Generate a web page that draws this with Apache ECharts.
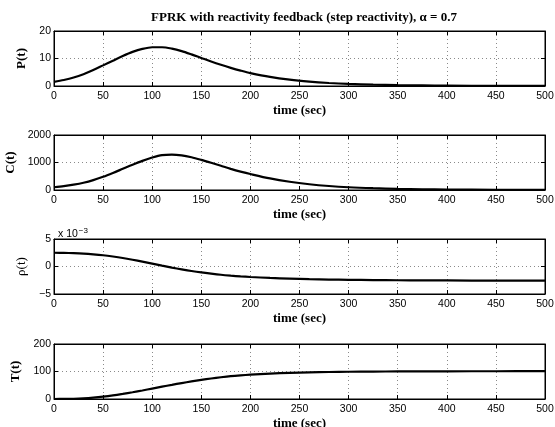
<!DOCTYPE html>
<html>
<head>
<meta charset="utf-8">
<script src="https://cdn.jsdelivr.net/npm/echarts@6/dist/echarts.min.js"></script>
<style>
  html, body { margin: 0; padding: 0; background: #fff; }
  #chart { width: 555px; height: 427px; }
</style>
</head>
<body>
<div id="chart"></div>
<script>
// time samples (sec)
var times = [0, 10, 20, 30, 40, 50, 60, 70, 80, 90, 100, 110, 120, 130, 140, 150, 160, 170, 180, 190, 200,
             220, 240, 260, 280, 300, 325, 350, 375, 400, 450, 500];
// power P(t)
var power = [1.5, 2.2, 3.1, 4.3, 5.8, 7.5, 9.2, 10.9, 12.4, 13.5, 14.1, 14.1, 13.6, 12.7, 11.5, 10.2, 8.9, 7.7, 6.6, 5.6, 4.7,
             3.3, 2.3, 1.6, 1.1, 0.75, 0.48, 0.3, 0.2, 0.13, 0.06, 0.03];
// precursor C(t)
var precursor = [100, 140, 195, 265, 360, 480, 620, 770, 920, 1060, 1180, 1270, 1290, 1260, 1190, 1095, 990, 880, 770, 670, 580,
                 420, 300, 210, 145, 100, 65, 42, 27, 18, 8, 4];
// reactivity rho(t)
var reactivity = [0.0025, 0.00248, 0.00243, 0.00235, 0.00222, 0.00205, 0.00182, 0.00155, 0.00123, 0.00088, 0.00052, 0.00015,
                  -0.0002, -0.00052, -0.00082, -0.00108, -0.0013, -0.0015, -0.00166, -0.0018, -0.00191,
                  -0.00208, -0.0022, -0.0023, -0.00237, -0.00242, -0.00247, -0.0025, -0.00252, -0.00254, -0.00256, -0.00257];
// temperature T(t)
var temperature = [0, 0.3, 1, 2.5, 5, 8.5, 13, 18.5, 24.5, 31, 38, 45, 51.5, 58, 64, 69.5, 74.5, 79, 83, 86, 88.5,
                   92.5, 95, 97, 98.2, 99, 99.7, 100.2, 100.5, 100.7, 101, 101.2];

var yNames = ['P(t)', 'C(t)', 'ρ(t)', 'T(t)'];
var yMin = [0, 0, -0.005, 0];
var yMax = [20, 2000, 0.005, 200];
var yStep = [10, 1000, 0.005, 100];
var tops = [31, 135, 239, 344];
var nameGaps = [21, 31, 21, 25];

var chart = echarts.init(document.getElementById('chart'));

var grids = [], xAxes = [], yAxes = [], series = [];
var allData = [power, precursor, reactivity, temperature];

function plainLabel(v) {
    return '' + v;
}
function milliLabel(v) {
    var s = Math.round(v * 1000);
    return s < 0 ? '\u2212' + (-s) : '' + s;
}

for (var k = 0; k < 4; k++) {
    grids.push({
        left: 54, right: 10, top: tops[k], height: 55, containLabel: false, outerBoundsMode: 'none',
        show: true, borderColor: '#000', borderWidth: 1
    });
    // bottom axis with labels
    xAxes.push({
        type: 'value', gridIndex: k, min: 0, max: 500, interval: 50, position: 'bottom',
        name: 'time (sec)', nameLocation: 'middle', nameGap: 18,
        nameTextStyle: {fontFamily: 'Liberation Serif', fontWeight: 'bold', fontSize: 13, color: '#000'},
        axisLine: {show: true, onZero: false, lineStyle: {color: '#000', width: 1}},
        axisTick: {show: true, inside: true, length: 4, lineStyle: {color: '#000'}},
        axisLabel: {color: '#000', fontFamily: 'Liberation Sans', fontSize: 10.5, margin: 5, formatter: plainLabel},
        splitLine: {show: true, lineStyle: {color: '#8a8a8a', width: 1, type: [1, 3]}}
    });
    // top axis, ticks only
    xAxes.push({
        type: 'value', gridIndex: k, min: 0, max: 500, interval: 50, position: 'top',
        axisLine: {show: true, onZero: false, lineStyle: {color: '#000', width: 1}},
        axisTick: {show: true, inside: true, length: 4, lineStyle: {color: '#000'}},
        axisLabel: {show: false}, splitLine: {show: false}
    });
    yAxes.push({
        type: 'value', gridIndex: k, min: yMin[k], max: yMax[k], interval: yStep[k], position: 'left',
        name: yNames[k], nameLocation: 'middle', nameGap: nameGaps[k], nameRotate: 90,
        nameTextStyle: {fontFamily: 'Liberation Serif', fontWeight: k === 2 ? 'normal' : 'bold', fontSize: 13, color: '#000'},
        axisLine: {show: true, onZero: false, lineStyle: {color: '#000', width: 1}},
        axisTick: {show: true, inside: true, length: 4, lineStyle: {color: '#000'}},
        axisLabel: {
            color: '#000', fontFamily: 'Liberation Sans', fontSize: 10.5, margin: 3,
            formatter: k === 2 ? milliLabel : plainLabel
        },
        splitLine: {show: true, lineStyle: {color: '#8a8a8a', width: 1, type: [1, 3]}}
    });
    yAxes.push({
        type: 'value', gridIndex: k, min: yMin[k], max: yMax[k], interval: yStep[k], position: 'right',
        axisLine: {show: true, onZero: false, lineStyle: {color: '#000', width: 1}},
        axisTick: {show: true, inside: true, length: 4, lineStyle: {color: '#000'}},
        axisLabel: {show: false}, splitLine: {show: false}
    });
    var pts = [];
    for (var i = 0; i < times.length; i++) {
        pts.push([times[i], allData[k][i]]);
    }
    series.push({
        name: yNames[k], type: 'line', xAxisIndex: k * 2, yAxisIndex: k * 2,
        data: pts, smooth: 0.3, showSymbol: false, silent: true,
        lineStyle: {color: '#000', width: 2.2}
    });
}

chart.setOption(option = {
    animation: false,
    backgroundColor: '#fff',
    title: [{
        text: 'FPRK with reactivity feedback (step reactivity), α = 0.7',
        left: 299, top: 6, textAlign: 'center',
        textStyle: {fontFamily: 'Liberation Serif', fontWeight: 'bold', fontSize: 13, color: '#000'}
    }, {
        text: 'x 10{sup|\u22123}',
        left: 53, top: 222,
        textStyle: {
            fontFamily: 'Liberation Sans', fontWeight: 'normal', fontSize: 10.5, color: '#000',
            rich: {sup: {fontFamily: 'Liberation Sans', fontSize: 8, color: '#000', verticalAlign: 'top', padding: [0, 0, 6, 1]}}
        }
    }],
    grid: grids,
    xAxis: xAxes,
    yAxis: yAxes,
    series: series
});
</script>
</body>
</html>
